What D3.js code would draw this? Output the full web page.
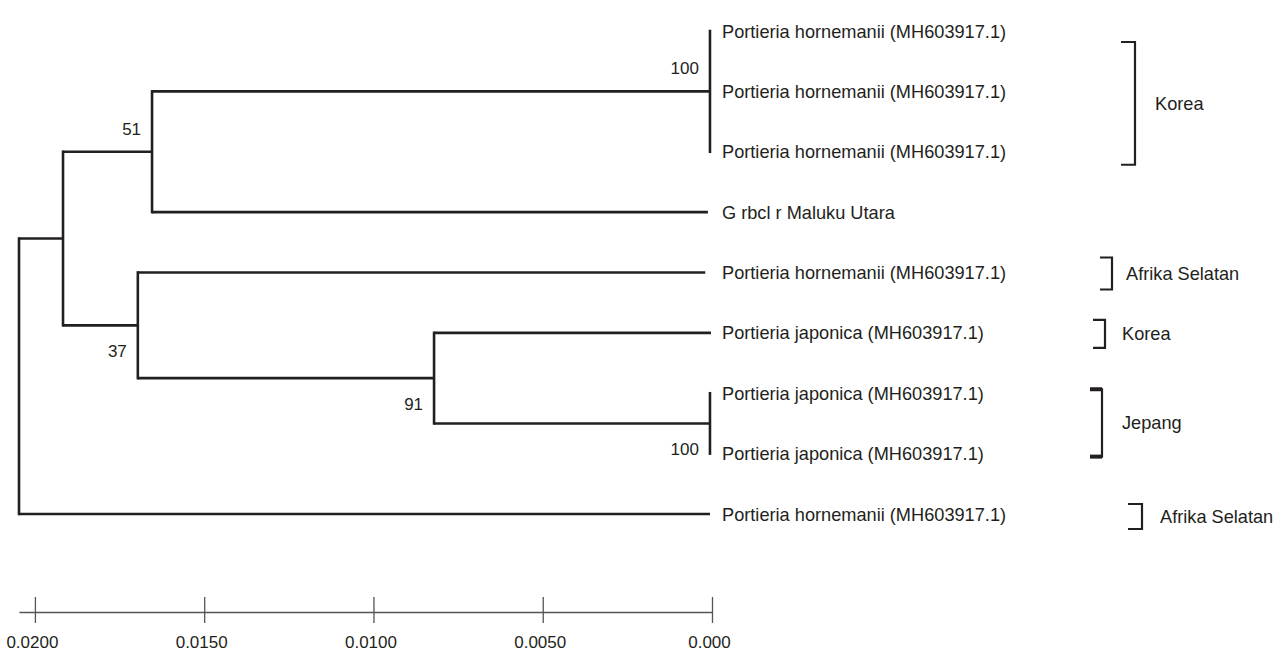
<!DOCTYPE html>
<html><head><meta charset="utf-8">
<script src="https://cdn.jsdelivr.net/npm/d3@7"></script>
<style>html,body{margin:0;padding:0;background:#fff;}svg{display:block;}</style>
</head><body>
<svg id="chart" width="1278" height="655"></svg>
<script>
// ---- data ----
const nodeIds     = ["root","A","B","C","H","h1","h2","h3","G","af1","D","kj","J","jj1","jj2","af2"];
const nodeParents = ["",   "root","A","A","B","H","H","H","B","C","C","D","D","J","J","root"];
// node heights (distance back from the tips, same units as the scale bar)
const nodeHeights = [0.02047,0.01917,0.01654,0.01696,0.00006,0.00006,0.00006,0.00006,0.00012,0.0002,0.00821,0.00003,0.00006,0.00006,0.00006,0.00006];
const leafNames = {
  h1:"Portieria hornemanii (MH603917.1)",
  h2:"Portieria hornemanii (MH603917.1)",
  h3:"Portieria hornemanii (MH603917.1)",
  G:"G rbcl r Maluku Utara",
  af1:"Portieria hornemanii (MH603917.1)",
  kj:"Portieria japonica (MH603917.1)",
  jj1:"Portieria japonica (MH603917.1)",
  jj2:"Portieria japonica (MH603917.1)",
  af2:"Portieria hornemanii (MH603917.1)"
};
const supportNodes  = ["H","B","C","D","J"];
const supportValues = [100,51,37,91,100];
const groupLabels = ["Korea","Afrika Selatan","Korea","Jepang","Afrika Selatan"];
const groupFirst  = ["h1","af1","kj","jj1","af2"];
const groupLast   = ["h3","af1","kj","jj2","af2"];
const tickValues = [0.02,0.015,0.01,0.005,0];
const tickLabels = ["0.0200","0.0150","0.0100","0.0050","0.000"];

// ---- layout (positions / styles) ----
const supportPlace = {H:"above",B:"above",C:"below",D:"below",J:"below"};
const groupLayout = [
  {x:1135, dTop:11, dBot:13, tx:20},
  {x:1112, dTop:-15, dBot:17, tx:14},
  {x:1105, dTop:-13, dBot:15, tx:17},
  {x:1102, dTop:-4, dBot:3, tx:20, heavy:true},
  {x:1142, dTop:-10, dBot:15, tx:18}
];
const ink = "#231f20";
const font = "'Liberation Sans', Arial, sans-serif";

const svg = d3.select("#chart");
const root = d3.stratify().id((d,i)=>nodeIds[i]).parentId((d,i)=>nodeParents[i]||null)(nodeIds.map((id,i)=>({id,h:nodeHeights[i]})));

const x = d3.scaleLinear().domain([nodeHeights[0],0]).range([19,712]);
const leaves = root.leaves();
const y = d3.scalePoint().domain(leaves.map(d=>d.id)).range([31,514]);

root.eachAfter(n=>{
  n.px = x(n.data.h);
  if(!n.children) n.py = y(n.id);
  else n.py = (n.children[0].py + n.children[n.children.length-1].py)/2;
});

const g = svg.append("g");
root.descendants().filter(n=>n.parent).forEach(n=>{
  g.append("path")
    .attr("d",`M${n.parent.px},${n.py}H${n.px}`)
    .attr("fill","none").attr("stroke",ink).attr("stroke-width",2.6);
});
root.descendants().filter(n=>n.children).forEach(n=>{
  const c = n.children;
  g.append("path")
    .attr("d",`M${n.px},${c[0].py-1.3}V${c[c.length-1].py+1.3}`)
    .attr("fill","none").attr("stroke",ink).attr("stroke-width",2.6);
});

// leaf labels
g.selectAll("text.leaf").data(leaves).join("text")
  .attr("class","leaf")
  .attr("x",x(0)+10).attr("y",d=>d.py+6.5)
  .attr("font-family",font).attr("font-size",18.2).attr("fill",ink)
  .text(d=>leafNames[d.id]);

// supports
supportNodes.forEach((id,i)=>{
  const n = root.find(d=>d.id===id);
  const above = supportPlace[id]==="above";
  g.append("text")
    .attr("x",n.px-11).attr("y",above? n.py-17 : n.py+32)
    .attr("text-anchor","end")
    .attr("font-family",font).attr("font-size",17).attr("fill",ink)
    .text(supportValues[i]);
});

// group brackets
groupLabels.forEach((lab,i)=>{
  const L = groupLayout[i];
  const y0 = y(groupFirst[i]) + L.dTop, y1 = y(groupLast[i]) + L.dBot;
  const bx = L.x, w = L.x > 1120 ? 14 : 12;
  g.append("path")
    .attr("d",`M${bx-w},${y0}H${bx}V${y1}H${bx-w}`)
    .attr("fill","none").attr("stroke",ink).attr("stroke-width",2.2);
  if(L.heavy){
    [y0,y1].forEach(yy=>g.append("rect").attr("x",bx-w).attr("y",yy-2).attr("width",w).attr("height",4).attr("fill",ink));
  }
  g.append("text")
    .attr("x",bx+L.tx).attr("y",(y0+y1)/2+6.5)
    .attr("font-family",font).attr("font-size",18.2).attr("fill",ink)
    .text(lab);
});

// scale axis
const axisY = 612;
const ax = svg.append("g").attr("transform",`translate(0,${axisY})`)
  .call(d3.axisBottom(x).tickValues(tickValues).tickFormat((d,i)=>tickLabels[i]).tickSizeOuter(0).tickSizeInner(14).tickPadding(10));
ax.select(".domain").attr("stroke","#555").attr("stroke-width",1.5);
ax.selectAll(".tick line").attr("y1",-15).attr("y2",11).attr("stroke","#555").attr("stroke-width",1.3);
ax.selectAll(".tick text").attr("font-family",font).attr("font-size",17).attr("fill",ink).attr("dx",-3);
</script>
</body></html>
